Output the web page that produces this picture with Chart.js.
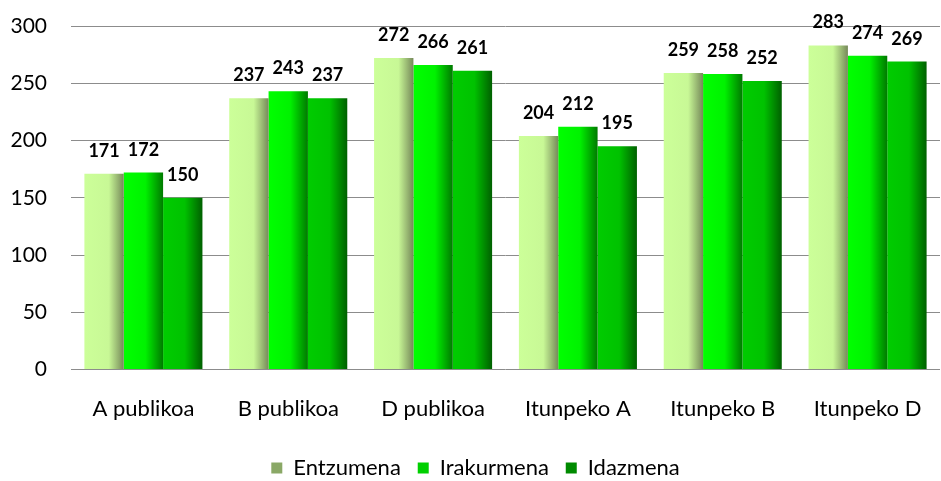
<!DOCTYPE html>
<html><head><meta charset="utf-8">
<script src="https://cdn.jsdelivr.net/npm/chart.js@4/dist/chart.umd.min.js"></script>
<style>html,body{margin:0;padding:0;background:#fff}#wrap{width:941px;height:481px}</style>
</head><body><div id="wrap"><canvas id="c" width="941" height="481"></canvas></div>
<script>
const categories = ['A publikoa','B publikoa','D publikoa','Itunpeko A','Itunpeko B','Itunpeko D'];
const seriesNames = ['Entzumena','Irakurmena','Idazmena'];
const entzumena = [171,237,272,204,259,283];
const irakurmena = [172,243,266,212,258,274];
const idazmena = [150,237,261,195,252,269];
const yTicks = [0,50,100,150,200,250,300];

const FONT = 'Lato, "Open Sans", sans-serif';
const CAT_PCT = 0.815;
const gradStops = [
  [[0,'#ccff99'],[0.62,'#c8f896'],[1,'#76895a']],
  [[0,'#00ff00'],[0.55,'#00f200'],[1,'#007a00']],
  [[0,'#00cc00'],[0.55,'#00c200'],[1,'#006000']]
];
const legendColors = ['#8aa866','#00d000','#008a00'];

function barFill(ctx){
  const chart = ctx.chart;
  const xs = chart.scales.x;
  if (!xs || ctx.dataIndex === undefined || ctx.type !== 'data') return legendColors[ctx.datasetIndex];
  const n = categories.length;
  const catW = xs.width / n;
  const groupW = catW * CAT_PCT;
  const bw = groupW / 3;
  const center = xs.getPixelForValue(ctx.dataIndex);
  const left = center - groupW/2 + ctx.datasetIndex*bw;
  const g = chart.ctx.createLinearGradient(left,0,left+bw,0);
  gradStops[ctx.datasetIndex].forEach(s=>g.addColorStop(s[0],s[1]));
  return g;
}

const labelPlugin = {
  id:'valueLabels',
  afterDatasetsDraw(chart){
    const c = chart.ctx;
    c.save();
    c.font = 'bold 18px ' + FONT;
    c.fillStyle = '#000';
    c.textAlign = 'center';
    c.textBaseline = 'alphabetic';
    chart.data.datasets.forEach((ds,di)=>{
      const meta = chart.getDatasetMeta(di);
      meta.data.forEach((el,i)=>{
        c.fillText(String(ds.data[i]), el.x, el.y - 17);
      });
    });
    c.restore();
  }
};

const datasets = [entzumena, irakurmena, idazmena].map((d,i)=>({
  label: seriesNames[i],
  data: d,
  backgroundColor: barFill,
  borderWidth: 0,
  categoryPercentage: CAT_PCT,
  barPercentage: 1.0
}));

const legendTexts = ['Entzumena   ','Irakurmena   ','Idazmena'];

function zeroPad(s){ s.paddingLeft = 0; s.paddingRight = 0; s.paddingTop = 0; s.paddingBottom = 0; }

new Chart(document.getElementById('c'), {
  type:'bar',
  data:{labels:categories, datasets},
  plugins:[labelPlugin],
  options:{
    responsive:false,
    animation:false,
    devicePixelRatio:1,
    layout:{padding:{top:26,right:1,left:11,bottom:-8}},
    plugins:{
      tooltip:{enabled:false},
      legend:{
        position:'bottom',
        labels:{
          boxWidth:11, boxHeight:11, padding:0,
          color:'#000',
          font:{size:22, family:FONT},
          generateLabels(chart){
            return seriesNames.map((n,i)=>({text:legendTexts[i], fillStyle:legendColors[i], strokeStyle:legendColors[i], lineWidth:0, datasetIndex:i, fontColor:'#000'}));
          }
        }
      }
    },
    scales:{
      x:{
        grid:{display:false},
        border:{display:false},
        ticks:{color:'#000', font:{size:22, family:FONT}, padding:18, maxRotation:0},
        afterFit(s){ s.height += 17; zeroPad(s); }
      },
      y:{
        min:0,max:300,
        afterBuildTicks(s){ s.ticks = yTicks.map(v=>({value:v})); },
        grid:{color:'#8c8c8c', lineWidth:1, drawTicks:false},
        border:{display:false},
        ticks:{color:'#000', font:{size:21, family:FONT}, padding:24},
        afterFit(s){ zeroPad(s); s.width = 60; }
      }
    }
  }
});
</script></body></html>
